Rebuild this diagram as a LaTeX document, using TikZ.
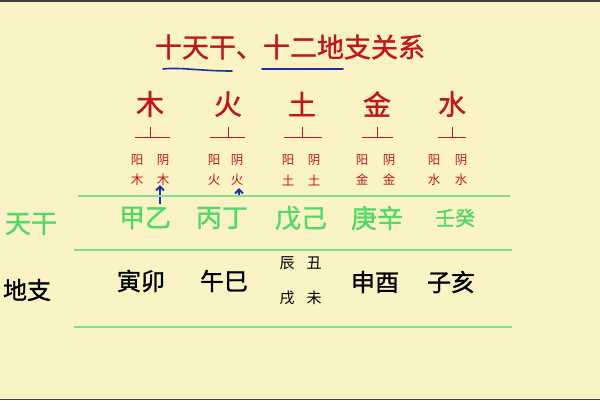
\documentclass[tikz,border=0pt]{standalone}
\usepackage{fontspec}
\newfontfamily\cjk{Noto Sans CJK SC}
\newfontfamily\cjkb[FakeBold=1.2]{Noto Sans CJK SC}
\usetikzlibrary{arrows.meta}
\definecolor{bg}{HTML}{FAF4C4}
\definecolor{cred}{HTML}{C0171C}
\definecolor{cgreen}{HTML}{52D868}
\definecolor{lgreen}{HTML}{80E08C}
\definecolor{cblue}{HTML}{1C2FA8}
\begin{document}
\begin{tikzpicture}[x=1pt,y=-1pt,
  txt/.style={inner sep=0pt,font=\cjk},
  ttl/.style={txt,text=cred,font=\cjkb\fontsize{27}{27}\selectfont},
  elem/.style={txt,text=cred,font=\cjkb\fontsize{28}{28}\selectfont},
  yy/.style={txt,text=cred,font=\cjk\fontsize{12.5}{12.5}\selectfont},
  tg/.style={txt,text=cgreen,font=\cjkb\fontsize{26}{26}\selectfont},
  dz/.style={txt,text=black,font=\cjkb\fontsize{24}{24}\selectfont},
  dzs/.style={txt,text=black,font=\cjk\fontsize{15}{15}\selectfont},
  gline/.style={draw=lgreen,line width=1.3pt},
  tee/.style={draw=cred,line width=0.9pt},
  ul/.style={draw=cblue,line width=1.6pt,line cap=round},
  arr/.style={draw=cblue,line width=2pt,-{Straight Barb[length=4pt,width=8pt]}}]
\fill[bg] (0,0) rectangle (600,400);
\fill[black!75] (0,0) rectangle (600,1.5);
\fill[black!75] (0,398.5) rectangle (600,400);
\useasboundingbox (0,0) rectangle (600,400);
% title
\node[ttl] (title) at (290,47) {十天干、十二地支关系};
\coordinate (u1a) at (163,69); \coordinate (u1b) at (232,71);
\coordinate (u2a) at (262,69); \coordinate (u2b) at (343,69);
\draw[ul] (u1a) .. controls (180,67) and (200,71) .. (u1b);
\draw[ul] (u2a) -- (u2b);
% elements
\foreach \n/\c/\x/\l/\r/\yl/\yr in {mu/木/150/135/170/137/163, huo/火/228/210/245/214/237, tu/土/302/284/322/288/314, jin/金/377/362/393/362/389, shui/水/452/438/466/434/461}{
  \node[elem] (\n) at (\x,104) {\c};
  \coordinate (\n h1) at (\l,137); \coordinate (\n h2) at (\r,137);
  \coordinate (\n v1) at (\x,127); \coordinate (\n v2) at (\x,137);
  \draw[tee] (\n h1) -- (\n h2);
  \draw[tee] (\n v1) -- (\n v2);
  \node[yy] (\n yang) at (\yl,160) {阳};
  \node[yy] (\n yin) at (\yr,160) {阴};
  \node[yy] (\n a) at (\yl,180) {\c};
  \node[yy] (\n b) at (\yr,180) {\c};
}
% arrows
\coordinate (a1s) at (160,204); \coordinate (a1e) at (160,185);
\coordinate (a2s) at (239,197); \coordinate (a2e) at (239,188);
\draw[arr] (a1s) -- (a1e);
\draw[arr] (a2s) -- (a2e);
% green lines
\coordinate (g1a) at (78,196); \coordinate (g1b) at (510,196);
\coordinate (g2a) at (74,250); \coordinate (g2b) at (512,250);
\coordinate (g3a) at (74,327); \coordinate (g3b) at (512,327);
\draw[gline] (g1a) -- (g1b);
\draw[gline] (g2a) -- (g2b);
\draw[gline] (g3a) -- (g3b);
% tiangan
\node[tg] (tiangan) at (31,224) {天干};
\node[tg] (jy) at (145,218) {甲乙};
\node[tg] (bd) at (222,218) {丙丁};
\node[tg] (wj) at (301,218) {戊己};
\node[tg] (gx) at (377,218) {庚辛};
\node[tg,font=\cjkb\fontsize{20}{20}\selectfont] (rg) at (455,218) {壬癸};
% dizhi
\node[dz] (dizhi) at (27,290) {地支};
\node[dz] (ym) at (141,281) {寅卯};
\node[dz] (ws) at (224,281) {午巳};
\node[dzs] (chen) at (287,263) {辰};
\node[dzs] (chou) at (314,263) {丑};
\node[dzs] (xu) at (287,298) {戌};
\node[dzs] (wei) at (314,298) {未};
\node[dz] (sy) at (375,282) {申酉};
\node[dz] (zh) at (451,282) {子亥};
\end{tikzpicture}
\end{document}
